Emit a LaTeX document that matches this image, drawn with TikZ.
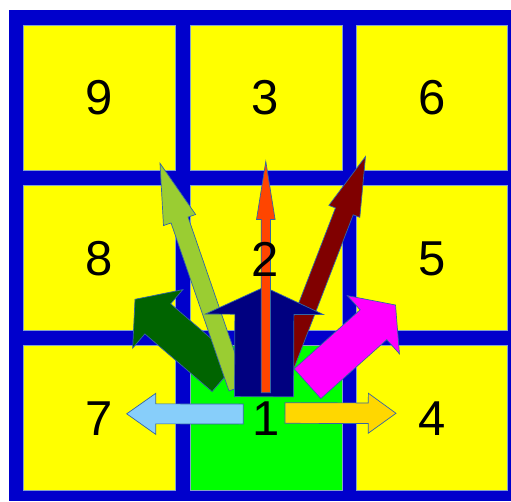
\documentclass[tikz,border=0pt]{standalone}
\usepackage{fontspec}
\setmainfont{Liberation Sans}
\usetikzlibrary{calc}
\definecolor{framblue}{HTML}{0000CC}
\definecolor{cellyellow}{HTML}{FFFF00}
\definecolor{cellgreen}{HTML}{00FF00}
\definecolor{outl}{HTML}{3465A4}
\definecolor{ygreen}{HTML}{9ACD32}
\definecolor{dgreen}{HTML}{006400}
\definecolor{dred}{HTML}{800000}
\definecolor{ored}{HTML}{FF4500}
\definecolor{navyc}{HTML}{000080}
\definecolor{magc}{HTML}{FF00FF}
\definecolor{skyc}{HTML}{87CEFA}
\definecolor{goldc}{HTML}{FFD700}
\tikzset{
  cellbox/.style={fill=cellyellow, draw=outl!60, line width=0.5pt},
  arrowline/.style={draw=outl, line width=0.7pt, line join=miter},
  digit/.style={font=\fontsize{49}{49}\selectfont, inner sep=0pt, text=black}
}
\newcommand\blkarrow[6]{%
  \coordinate (bT) at (#2);
  \coordinate (bP) at (#3);
  \coordinate (bH) at ($(bP)!#6!(bT)$);
  \draw[arrowline,fill=#1] ($(bT)!#4!90:(bP)$) -- ($(bH)!#4!90:(bP)$) -- ($(bH)!#5!90:(bP)$) -- (bP) -- ($(bH)!#5!-90:(bP)$) -- ($(bH)!#4!-90:(bP)$) -- ($(bT)!#4!-90:(bP)$) -- cycle;}
\begin{document}
\begin{tikzpicture}[x=1pt,y=-1pt]
\useasboundingbox (0,0) rectangle (511,501);
\fill[white] (0,0) rectangle (511,501);
\fill[framblue] (9,10) rectangle (511,501);
% cells
\draw[cellbox] (23.7,25) rectangle (175.7,170);
\draw[cellbox] (190,25) rectangle (342,170);
\draw[cellbox] (356,25) rectangle (507.5,170);
\draw[cellbox] (23.7,185) rectangle (175.7,330);
\draw[cellbox] (190,185) rectangle (342,330);
\draw[cellbox] (356,185) rectangle (507.5,330);
\draw[cellbox] (23.7,345) rectangle (175.7,490.7);
\draw[cellbox,fill=cellgreen] (190,345) rectangle (342,490.7);
\draw[cellbox] (356,345) rectangle (507.5,490.7);
% arrows
\blkarrow{dgreen}{225,376.5}{135,299.3}{19.8pt}{38.5pt}{30pt}
\blkarrow{ygreen}{237.5,388}{160,163.3}{9pt}{17pt}{60pt}
\blkarrow{dred}{274.6,392}{365.5,156.5}{9.5pt}{16.6pt}{58.8pt}
\blkarrow{magc}{307.5,383.7}{395.5,305}{20pt}{39pt}{29.6pt}
\blkarrow{navyc}{264,396.7}{264.5,287}{29.5pt}{59pt}{27.3pt}
\blkarrow{ored}{265.8,392.7}{265.8,161.5}{4.6pt}{9.3pt}{58pt}
\blkarrow{skyc}{243.3,414}{126.7,413.8}{10pt}{20.5pt}{29pt}
\blkarrow{goldc}{285,413}{396,413.3}{10.3pt}{20pt}{27.7pt}
% digits
\node[digit] (n9) at (99.6,97.5) {9};
\node[digit] (n3) at (265.5,97.5) {3};
\node[digit] (n6) at (431.7,97.5) {6};
\node[digit] (n8) at (99.6,259) {8};
\node[digit] (n2) at (265.2,259) {2};
\node[digit] (n5) at (431.7,259) {5};
\node[digit] (n7) at (99.6,419) {7};
\node[digit] (n1) at (266,419) {1};
\node[digit] (n4) at (431.7,419) {4};
\end{tikzpicture}
\end{document}
